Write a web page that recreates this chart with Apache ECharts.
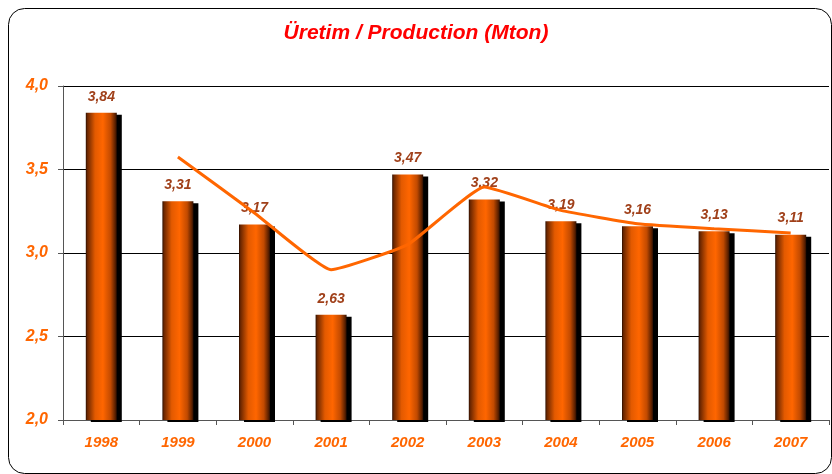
<!DOCTYPE html>
<html>
<head>
<meta charset="utf-8">
<title>Üretim / Production</title>
<script src="https://cdn.jsdelivr.net/npm/echarts@6/dist/echarts.min.js"></script>
<style>
  html, body { margin: 0; padding: 0; background: #fff; }
  #main { width: 832px; height: 474px; }
</style>
</head>
<body>
<div id="main"></div>
<script>
// data
var years = ['1998', '1999', '2000', '2001', '2002', '2003', '2004', '2005', '2006', '2007'];
var production = [3.84, 3.31, 3.17, 2.63, 3.47, 3.32, 3.19, 3.16, 3.13, 3.11];
var trend = [null, 3.575, 3.24, 2.90, 3.05, 3.395, 3.255, 3.175, 3.145, 3.12];
var yTicks = ['2,0', '2,5', '3,0', '3,5', '4,0'];

var font = '"Liberation Sans Narrow", "Liberation Sans", Arial, sans-serif';

var myChart = echarts.init(document.getElementById('main'));

var option = {
    animation: false,
    title: {
        text: 'Üretim / Production (Mton)',
        left: 'center',
        top: 18,
        textStyle: { color: '#ff0000', fontSize: 21, fontStyle: 'italic', fontWeight: 'bold', fontFamily: font }
    },
    graphic: [{
        type: 'rect',
        left: 6, top: 6,
        shape: { width: 823, height: 465, r: 16 },
        style: { fill: 'none', stroke: '#000', lineWidth: 1 },
        z: -1
    }],
    grid: { left: 63, right: 3, top: 86, bottom: 54 },
    xAxis: {
        type: 'category',
        data: years,
        axisLine: { lineStyle: { color: '#555' } },
        axisTick: { show: true, length: 5, lineStyle: { color: '#555' } },
        axisLabel: {
            color: '#ff6600', fontSize: 15, fontStyle: 'italic', fontWeight: 'bold', fontFamily: font, margin: 15
        }
    },
    yAxis: {
        type: 'value',
        min: 2, max: 4, interval: 0.5,
        axisLine: { show: true, lineStyle: { color: '#555' } },
        axisTick: { show: true, length: 5, lineStyle: { color: '#555' } },
        splitLine: { lineStyle: { color: '#000', width: 1 } },
        axisLabel: {
            color: '#ff6600', fontSize: 16, fontStyle: 'italic', fontWeight: 'bold', fontFamily: font, margin: 15,
            formatter: function (v) { return yTicks[Math.round((v - 2) / 0.5)]; }
        }
    },
    series: [
        {
            name: 'Üretim',
            type: 'bar',
            data: production,
            barWidth: 31,
            itemStyle: {
                color: new echarts.graphic.LinearGradient(0, 0, 1, 0, [
                    { offset: 0, color: '#2a0d00' },
                    { offset: 0.05, color: '#6a2600' },
                    { offset: 0.3, color: '#e35a00' },
                    { offset: 0.55, color: '#ff6600' },
                    { offset: 0.8, color: '#c24a00' },
                    { offset: 0.95, color: '#5a2000' },
                    { offset: 1, color: '#2a0d00' }
                ]),
                shadowColor: '#000',
                shadowOffsetX: 5,
                shadowOffsetY: 2,
                shadowBlur: 0
            },
            label: {
                show: true,
                position: 'top',
                distance: 9,
                color: '#a0401a',
                fontSize: 14,
                fontStyle: 'italic',
                fontWeight: 'bold',
                fontFamily: font,
                formatter: function (p) { return p.value.toFixed(2).replace('.', ','); }
            }
        },
        {
            name: 'Trend',
            type: 'line',
            data: trend,
            smooth: 0.12,
            symbol: 'none',
            lineStyle: { color: '#ff6600', width: 3 },
            z: 3
        }
    ]
};

myChart.setOption(option);
</script>
</body>
</html>
